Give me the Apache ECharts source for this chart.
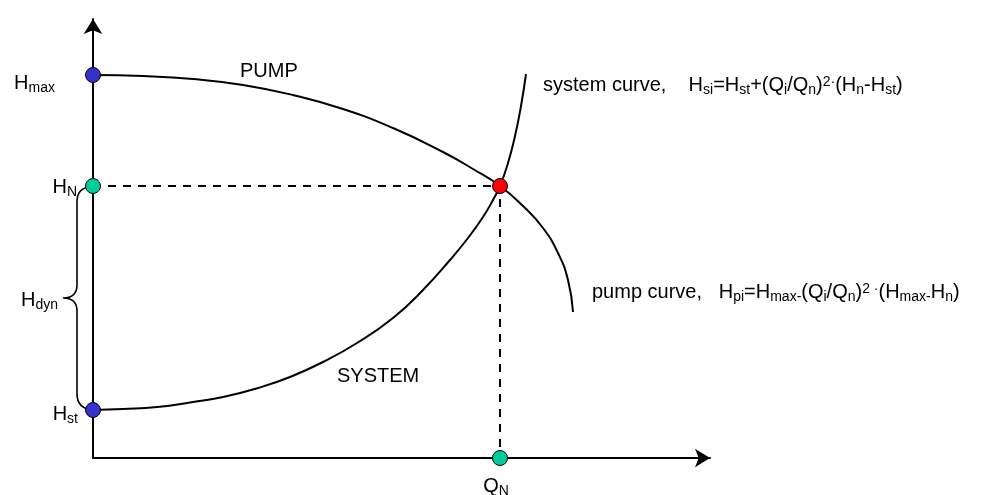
<!DOCTYPE html>
<html>
<head>
<meta charset="utf-8">
<script src="https://cdn.jsdelivr.net/npm/echarts@6/dist/echarts.min.js"></script>
<style>
  html, body { margin: 0; padding: 0; background: #fff; }
  #main { width: 983px; height: 495px; }
</style>
</head>
<body>
<div id="main"></div>
<script>
// 数据：流量 Q / 扬程 H（任意单位）
var Q_N = 407, H_N = 272, H_MAX = 383, H_ST = 48;

var pumpQ = [0, 50, 100, 150, 200, 250, 300, 350, 380, 407, 430, 450, 465, 475, 480];
var pumpH = [383, 382, 379, 373, 363, 349, 330, 306, 289, 272, 252, 230, 205, 178, 146];

var sysQ = [0, 30, 64, 100, 130, 165, 197, 230, 264, 300, 330, 357, 375, 390, 400, 407, 415, 422, 428, 433];
var sysH = [48, 49, 51, 56, 61, 70, 81, 96, 115, 140, 168, 198, 220, 241, 258, 272, 295, 322, 352, 384];

var BLUE = '#3333cc', GREEN = '#00cc99', RED = '#ff0000';
var FONT = 'Liberation Sans, Arial, sans-serif';

function zip(a, b) {
	var out = [];
	for (var i = 0; i < a.length; i++) out.push([a[i], b[i]]);
	return out;
}

// 下标 / 上标
var rich = {
	b: { fontSize: 20, lineHeight: 22, verticalAlign: 'top', fontFamily: FONT, color: '#000' },
	s: { fontSize: 14, lineHeight: 16, verticalAlign: 'bottom', fontFamily: FONT, color: '#000' },
	p: { fontSize: 14, lineHeight: 14, verticalAlign: 'top', fontFamily: FONT, color: '#000' }
};

var myChart = echarts.init(document.getElementById('main'));

var axisCommon = {
	type: 'value',
	min: 0,
	axisLine: {
		show: true,
		onZero: true,
		symbol: ['none', 'arrow'],
		symbolSize: [14, 15],
		lineStyle: { color: '#000', width: 2 }
	},
	axisTick: { show: false },
	axisLabel: { show: false },
	splitLine: { show: false }
};

function dot(x, y, color, label) {
	var item = { value: [x, y], itemStyle: { color: color } };
	if (label) item.label = Object.assign({ show: true, rich: rich }, label);
	return item;
}

option = {
	animation: false,
	grid: { left: 93, right: 273, top: 19, bottom: 37 },
	xAxis: Object.assign({}, axisCommon, { max: 617 }),
	yAxis: Object.assign({}, axisCommon, { max: 439 }),
	graphic: [
		{ type: 'text', x: 240, y: 71, style: { text: 'PUMP', font: '20px ' + FONT, fill: '#000', verticalAlign: 'middle' } },
		{ type: 'text', x: 337, y: 376, style: { text: 'SYSTEM', font: '20px ' + FONT, fill: '#000', verticalAlign: 'middle' } }
	],
	series: [
		{
			// H_dyn 大括号
			type: 'custom',
			clip: false,
			z: 1,
			data: [[0, H_ST, H_N]],
			renderItem: function (params, api) {
				var top = api.coord([api.value(0), api.value(2)]);
				var bot = api.coord([api.value(0), api.value(1)]);
				var x = top[0], bx = x - 16, px = x - 30;
				var my = (top[1] + bot[1]) / 2;
				var d = 'M' + (x - 3) + ' ' + (top[1] + 1) +
					' Q' + bx + ' ' + (top[1] + 2) + ' ' + bx + ' ' + (top[1] + 16) +
					' L' + bx + ' ' + (my - 13) +
					' Q' + bx + ' ' + my + ' ' + px + ' ' + my +
					' Q' + bx + ' ' + my + ' ' + bx + ' ' + (my + 13) +
					' L' + bx + ' ' + (bot[1] - 16) +
					' Q' + bx + ' ' + (bot[1] - 2) + ' ' + (x - 1) + ' ' + bot[1];
				return {
					type: 'group',
					children: [
						{ type: 'path', shape: { pathData: d }, style: { fill: null, stroke: '#000', lineWidth: 1.6 } },
						{
							type: 'text',
							x: px - 5,
							y: my + 3,
							style: { text: '{b|H}{s|dyn}', rich: rich, align: 'right', verticalAlign: 'middle' }
						}
					]
				};
			}
		},
		{
			// 虚线
			type: 'line',
			data: [[0, H_N], [Q_N, H_N], [Q_N, 0]],
			showSymbol: false,
			z: 2,
			lineStyle: { color: '#000', width: 2, type: [8, 7] }
		},
		{
			name: 'pump',
			type: 'line',
			smooth: true,
			showSymbol: false,
			z: 3,
			data: zip(pumpQ, pumpH),
			lineStyle: { color: '#000', width: 2 },
			endLabel: {
				show: true,
				distance: 19,
				offset: [0, -19],
				formatter: '{b|pump curve,   H}{s|pi}{b|=H}{s|max-}{b|(Q}{s|i}{b|/Q}{s|n}{b|)}{p|2 ·}{b|(H}{s|max-}{b|H}{s|n}{b|)}',
				rich: rich
			}
		},
		{
			name: 'system',
			type: 'line',
			smooth: true,
			showSymbol: false,
			z: 3,
			data: zip(sysQ, sysH),
			lineStyle: { color: '#000', width: 2 },
			endLabel: {
				show: true,
				distance: 17,
				offset: [0, 12],
				formatter: '{b|system curve,    H}{s|si}{b|=H}{s|st}{b|+(Q}{s|i}{b|/Q}{s|n}{b|)}{p|2·}{b|(H}{s|n}{b|-H}{s|st}{b|)}',
				rich: rich
			}
		},
		{
			type: 'scatter',
			symbolSize: 15,
			z: 5,
			itemStyle: { borderColor: '#000', borderWidth: 1, opacity: 1 },
			data: [
				dot(0, H_MAX, BLUE, { position: 'left', distance: 30, offset: [0, 9], formatter: '{b|H}{s|max}' }),
				dot(0, H_N, GREEN, { position: 'left', distance: 8, offset: [0, 2], formatter: '{b|H}{s|N}' }),
				dot(0, H_ST, BLUE, { position: 'left', distance: 7, offset: [0, 5], formatter: '{b|H}{s|st}' }),
				dot(Q_N, H_N, RED),
				dot(Q_N, 0, GREEN, { position: 'bottom', distance: 10, offset: [-4, 0], formatter: '{b|Q}{s|N}' })
			]
		}
	]
};

myChart.setOption(option);
</script>
</body>
</html>
